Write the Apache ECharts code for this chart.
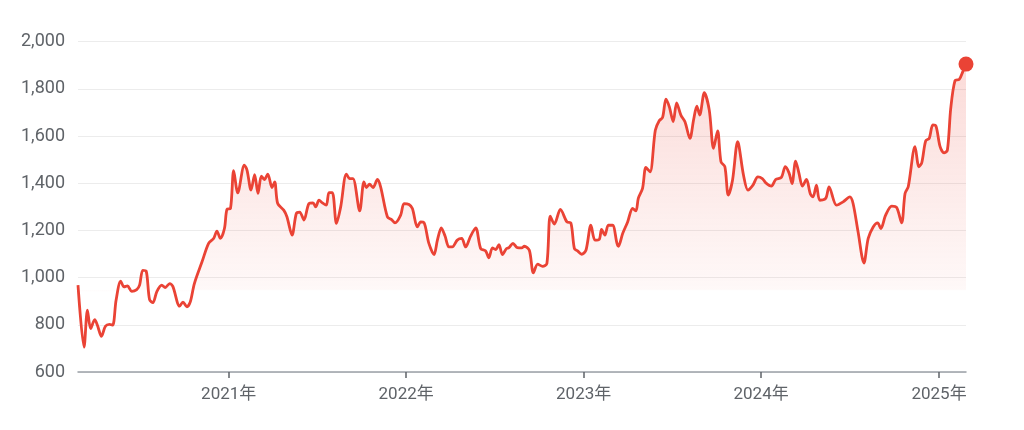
<!DOCTYPE html>
<html>
<head>
<meta charset="utf-8">
<style>
  html, body { margin: 0; padding: 0; background: #ffffff; }
  #chart { width: 1024px; height: 430px; }
</style>
<script src="https://cdn.jsdelivr.net/npm/echarts@6/dist/echarts.min.js"></script>
</head>
<body>
<div id="chart"></div>
<script>
// Time of each observation as decimal years
const years = [
  2020.153, 2020.187, 2020.206, 2020.224, 2020.247, 2020.262, 2020.285, 2020.307, 2020.330, 2020.348,
  2020.367, 2020.393, 2020.412, 2020.431, 2020.455, 2020.483, 2020.499, 2020.517, 2020.536, 2020.555,
  2020.574, 2020.596, 2020.624, 2020.643, 2020.668, 2020.686, 2020.724, 2020.743, 2020.765, 2020.784,
  2020.807, 2020.850, 2020.887, 2020.915, 2020.934, 2020.953, 2020.976, 2020.990, 2021.010, 2021.028,
  2021.051, 2021.088, 2021.103, 2021.126, 2021.146, 2021.165, 2021.184, 2021.201, 2021.220, 2021.244,
  2021.259, 2021.276, 2021.310, 2021.328, 2021.357, 2021.381, 2021.400, 2021.424, 2021.452, 2021.475,
  2021.490, 2021.509, 2021.528, 2021.550, 2021.565, 2021.584, 2021.607, 2021.631, 2021.663, 2021.682,
  2021.700, 2021.738, 2021.762, 2021.776, 2021.794, 2021.813, 2021.838, 2021.856, 2021.894, 2021.918,
  2021.937, 2021.969, 2021.988, 2022.016, 2022.035, 2022.063, 2022.082, 2022.100, 2022.128, 2022.157,
  2022.176, 2022.198, 2022.219, 2022.241, 2022.260, 2022.288, 2022.313, 2022.335, 2022.363, 2022.392,
  2022.420, 2022.448, 2022.466, 2022.486, 2022.504, 2022.523, 2022.542, 2022.565, 2022.579, 2022.602,
  2022.626, 2022.651, 2022.666, 2022.694, 2022.717, 2022.741, 2022.769, 2022.793, 2022.812, 2022.835,
  2022.869, 2022.906, 2022.928, 2022.948, 2022.966, 2022.989, 2023.013, 2023.041, 2023.064, 2023.088,
  2023.101, 2023.120, 2023.139, 2023.163, 2023.188, 2023.196, 2023.220, 2023.248, 2023.276, 2023.295,
  2023.308, 2023.332, 2023.351, 2023.374, 2023.404, 2023.426, 2023.445, 2023.464, 2023.483, 2023.505,
  2023.524, 2023.548, 2023.571, 2023.599, 2023.620, 2023.638, 2023.654, 2023.680, 2023.708, 2023.732,
  2023.755, 2023.774, 2023.796, 2023.815, 2023.839, 2023.868, 2023.901, 2023.926, 2023.954, 2023.982,
  2024.007, 2024.025, 2024.058, 2024.082, 2024.114, 2024.136, 2024.157, 2024.174, 2024.194, 2024.213,
  2024.232, 2024.255, 2024.277, 2024.292, 2024.311, 2024.330, 2024.363, 2024.382, 2024.424, 2024.461,
  2024.499, 2024.517, 2024.545, 2024.578, 2024.602, 2024.630, 2024.655, 2024.673, 2024.700, 2024.734,
  2024.762, 2024.790, 2024.809, 2024.827, 2024.865, 2024.887, 2024.903, 2024.925, 2024.945, 2024.965,
  2024.983, 2025.006, 2025.028, 2025.047, 2025.066, 2025.090, 2025.114, 2025.134, 2025.152
];
// Price values
const prices = [
  968, 705, 862, 784, 822, 798, 751, 794, 802, 799,
  904, 985, 961, 965, 942, 949, 968, 1031, 1028, 907,
  894, 941, 968, 958, 975, 963, 879, 896, 876, 897,
  975, 1067, 1145, 1166, 1197, 1166, 1208, 1289, 1293, 1453,
  1359, 1477, 1456, 1371, 1437, 1357, 1430, 1416, 1439, 1382,
  1406, 1314, 1286, 1258, 1180, 1272, 1278, 1244, 1314, 1317,
  1300, 1328, 1317, 1307, 1360, 1360, 1230, 1300, 1439, 1420,
  1420, 1283, 1406, 1382, 1396, 1382, 1416, 1385, 1258, 1246,
  1232, 1265, 1314, 1310, 1293, 1215, 1236, 1234, 1145, 1098,
  1159, 1211, 1176, 1130, 1130, 1159, 1166, 1130, 1176, 1211,
  1123, 1113, 1084, 1126, 1119, 1140, 1098, 1123, 1127, 1145,
  1127, 1126, 1133, 1116, 1020, 1057, 1048, 1060, 1261, 1227,
  1289, 1236, 1232, 1123, 1113, 1099, 1116, 1222, 1159, 1162,
  1204, 1180, 1222, 1222, 1145, 1133, 1187, 1236, 1293, 1283,
  1336, 1378, 1467, 1448, 1625, 1665, 1679, 1757, 1724, 1661,
  1741, 1689, 1661, 1590, 1670, 1727, 1689, 1784, 1710, 1548,
  1622, 1491, 1470, 1350, 1413, 1576, 1434, 1371, 1392, 1427,
  1420, 1403, 1388, 1416, 1425, 1470, 1444, 1399, 1494, 1442,
  1388, 1416, 1354, 1342, 1392, 1328, 1336, 1385, 1307, 1321,
  1342, 1314, 1194, 1062, 1166, 1215, 1232, 1208, 1265, 1303,
  1297, 1232, 1357, 1385, 1555, 1470, 1487, 1580, 1590, 1647,
  1642, 1555, 1529, 1540, 1717, 1835, 1840, 1873, 1905
];
const yTicks = [600, 800, 1000, 1200, 1400, 1600, 1800, 2000];
const areaBase = 946;

function yearToMs(t) {
  const y0 = Math.floor(t);
  const a = Date.UTC(y0, 0, 1), b = Date.UTC(y0 + 1, 0, 1);
  return a + (t - y0) * (b - a);
}
const seriesData = years.map((t, i) => [yearToMs(t), prices[i]]);
const last = seriesData[seriesData.length - 1];

const RED = '#EA4335';
const FONT = 'Roboto, "Noto Sans CJK SC", sans-serif';
const chart = echarts.init(document.getElementById('chart'), null, { renderer: 'canvas' });
chart.setOption({
  animation: false,
  grid: { left: 78, right: 58, top: 41.7, bottom: 58, containLabel: false },
  xAxis: {
    type: 'time',
    min: seriesData[0][0],
    max: last[0],
    splitNumber: 4,
    minInterval: 360 * 24 * 3600 * 1000,
    axisLine: { show: true, lineStyle: { color: '#9aa0a6', width: 1.5 } },
    axisTick: { show: true, length: 6, lineStyle: { color: '#5f6368', width: 1.5 } },
    splitLine: { show: false },
    axisLabel: {
      color: '#5f6368', fontSize: 17, fontFamily: FONT, margin: 14,
      formatter: function (val) {
        const d = new Date(val);
        return d.getMonth() === 0 && d.getDate() === 1 ? d.getFullYear() + '年' : '';
      }
    }
  },
  yAxis: {
    type: 'value',
    min: yTicks[0],
    max: yTicks[yTicks.length - 1],
    interval: 200,
    axisLine: { show: false },
    axisTick: { show: false },
    splitLine: { lineStyle: { color: '#ececec', width: 1 } },
    axisLabel: {
      color: '#5f6368', fontSize: 18, fontFamily: FONT, margin: 13,
      formatter: v => v.toLocaleString('en-US')
    }
  },
  series: [
    {
      type: 'line',
      data: seriesData,
      showSymbol: false,
      smooth: 0.3,
      lineStyle: { color: RED, width: 2.8 },
      itemStyle: { color: RED },
      areaStyle: {
        origin: areaBase,
        color: new echarts.graphic.LinearGradient(0, 62, 0, 292, [
          { offset: 0, color: 'rgba(234,67,53,0.28)' },
          { offset: 0.985, color: 'rgba(234,67,53,0.05)' },
          { offset: 1, color: 'rgba(234,67,53,0)' }
        ], true)
      },
      z: 2
    },
    {
      type: 'scatter',
      data: [last],
      symbol: 'circle',
      symbolSize: 15,
      itemStyle: { color: RED, opacity: 1 },
      z: 3
    }
  ]
});
</script>
</body>
</html>
